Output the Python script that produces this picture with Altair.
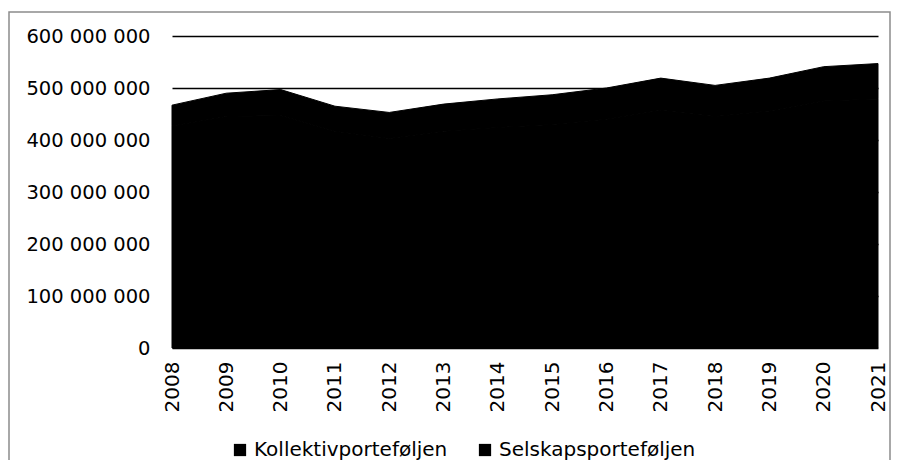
import altair as alt
import pandas as pd

years = [str(y) for y in range(2008, 2022)]
kollektiv = [427e6, 445e6, 447e6, 417e6, 403e6, 417e6, 424e6, 430e6, 440e6, 457e6, 445e6, 456e6, 475e6, 479e6]
selskap = [40e6, 45e6, 50e6, 48e6, 50e6, 52e6, 55e6, 57e6, 60e6, 62e6, 60e6, 63e6, 66e6, 68e6]
series = ["Kollektivporteføljen", "Selskapsporteføljen"]

rows = []
for i, y in enumerate(years):
    rows.append({"year": y, "series": series[0], "value": kollektiv[i], "ord": 0})
    rows.append({"year": y, "series": series[1], "value": selskap[i], "ord": 1})
df = pd.DataFrame(rows)

font = "DejaVu Sans"

area = alt.Chart(df).mark_area(opacity=1, stroke="black", strokeWidth=1).encode(
    x=alt.X("year:O", scale=alt.Scale(type="point", padding=0),
            axis=alt.Axis(title=None, labelAngle=-90, ticks=False, domain=False,
                          labelPadding=13, labelFontSize=20, labelFont=font,
                          labelColor="black", grid=False)),
    y=alt.Y("value:Q", stack="zero", scale=alt.Scale(domain=[0, 600e6], nice=False),
            axis=alt.Axis(title=None, values=[0, 1e8, 2e8, 3e8, 4e8, 5e8, 6e8],
                          labelExpr="replace(format(datum.value, ',d'), /,/g, ' ')",
                          ticks=False, domain=False, labelPadding=22,
                          labelFontSize=19.5, labelFont=font, labelColor="black",
                          grid=True, gridColor="black", gridWidth=1.4, gridOpacity=1)),
    color=alt.Color("series:N", sort=series,
                    scale=alt.Scale(domain=series, range=["black", "black"]),
                    legend=alt.Legend(title=None, orient="none", legendX=58, legendY=404,
                                      direction="horizontal", symbolType="square",
                                      symbolSize=150, symbolStrokeWidth=0,
                                      labelFontSize=20, labelFont=font, labelColor="black",
                                      labelLimit=0, labelOffset=4, columnPadding=27)),
    order=alt.Order("ord:Q"),
)

frame_df = pd.DataFrame({"k": [0]})
frame = alt.Chart(frame_df).mark_rect(fill=None, stroke="#8c8c8c", strokeWidth=1.5).encode(
    x=alt.value(-163), x2=alt.value(718), y=alt.value(-24), y2=alt.value(440)
)

chart = alt.layer(frame, area).properties(
    width=706, height=312,
    autosize=alt.AutoSizeParams(type="none"),
    padding={"left": 164, "top": 28, "right": 13, "bottom": 112},
    background="white",
).configure_view(stroke=None)

chart.save("out.html", embed_options={"renderer": "svg", "actions": False})
